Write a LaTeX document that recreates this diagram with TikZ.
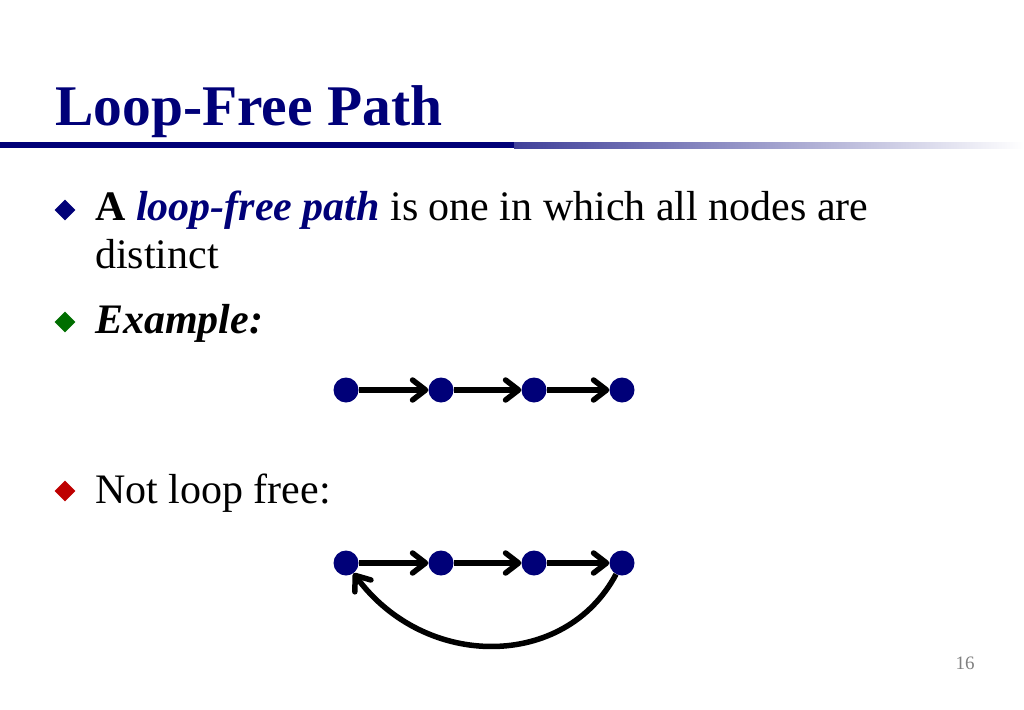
\documentclass[tikz,border=0pt]{standalone}
\usepackage{fontspec}
\setmainfont{Liberation Serif}
\usepackage{xcolor}
\usepackage{tikz}
\usetikzlibrary{shapes.geometric, arrows.meta, positioning, calc}

\definecolor{slidenavy}{RGB}{0,0,120}
\definecolor{bulgreen}{RGB}{0,110,0}
\definecolor{bulred}{RGB}{190,0,0}

\begin{document}
\begin{tikzpicture}[x=1pt, y=-1pt]
\tikzstyle{vertex} = [circle, fill=slidenavy, minimum size=25pt, inner sep=0pt]
\tikzstyle{edge} = [line width=5.5pt, -{Straight Barb[length=13pt,width=20pt,round]}]
\tikzstyle{bullet} = [diamond, minimum size=21pt, inner sep=0pt]
\tikzstyle{bodytext} = [anchor=base west, inner sep=0pt, font=\fontsize{42}{48}\selectfont]
\useasboundingbox (0,0) rectangle (1024,709);

% Title
\node[anchor=base west, inner sep=0pt, text=slidenavy, font=\fontsize{57.5}{64}\selectfont\bfseries] (title) at (55,125) {Loop-Free Path};
\fill[slidenavy] (0,142) rectangle (514,148);
\shade[left color=slidenavy!75, right color=white] (514,142) rectangle (1024,148);

% Bullets
\node[bullet, fill=slidenavy] (bul1) at (65,210) {};
\node[bodytext] (line1) at (95,220) {\textbf{A} \textcolor{slidenavy}{\textbf{\textit{loop-free path}}} is one in which all nodes are};
\node[bodytext] (line2) at (95,268) {distinct};
\node[bullet, fill=bulgreen] (bul2) at (65,322) {};
\node[bodytext] (line3) at (95,333) {\textbf{\textit{Example:}}};
\node[bullet, fill=bulred] (bul3) at (65,491) {};
\node[bodytext] (line4) at (95,503) {Not loop free:};

% Loop-free example
\node[vertex] (a1) at (346,390) {};
\node[vertex] (a2) at (441,390) {};
\node[vertex] (a3) at (534,390) {};
\node[vertex] (a4) at (622,390) {};
\draw[edge] (a1) -- (a2);
\draw[edge] (a2) -- (a3);
\draw[edge] (a3) -- (a4);

% Not loop free
\node[vertex] (b1) at (346,563) {};
\node[vertex] (b2) at (441,563) {};
\node[vertex] (b3) at (534,563) {};
\node[vertex] (b4) at (622,563) {};
\draw[edge] (b1) -- (b2);
\draw[edge] (b2) -- (b3);
\draw[edge] (b3) -- (b4);
\draw[edge] (b4) .. controls (565,670) and (425,670) .. (b1);

% Page number
\node[anchor=base, inner sep=0pt, text=gray, font=\fontsize{19}{22}\selectfont] (pagenum) at (965,669) {16};
\end{tikzpicture}
\end{document}
